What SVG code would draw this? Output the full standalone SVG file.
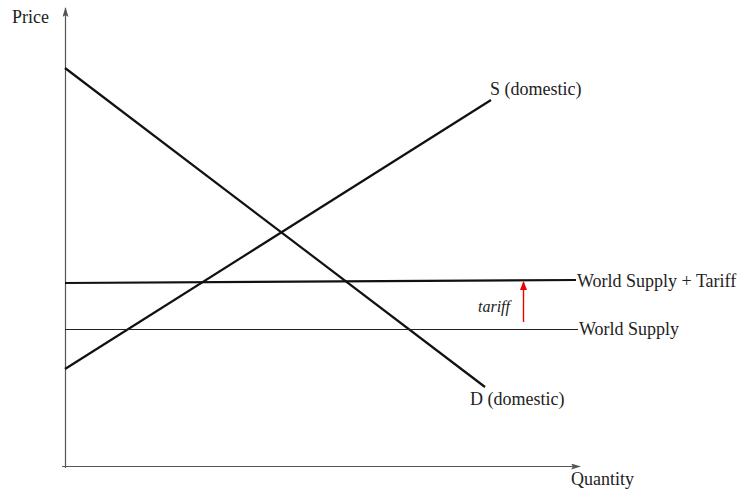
<svg xmlns="http://www.w3.org/2000/svg" width="742" height="492" viewBox="0 0 742 492">
<style>
text{font-family:"Liberation Serif","Times New Roman",serif;font-size:18px;fill:#222}
.axis{stroke:#555;stroke-width:1.2;fill:none}
.curve{stroke:#111;stroke-width:2.2;fill:none}
</style>
<defs>
<marker id="ah" markerWidth="10" markerHeight="6" refX="9" refY="3" orient="auto" markerUnits="userSpaceOnUse">
<path d="M0,0 L10,3 L0,6 L2,3 Z" fill="#555"/>
</marker>
<marker id="ahr" markerWidth="9" markerHeight="8" refX="8" refY="3.5" orient="auto" markerUnits="userSpaceOnUse">
<path d="M0,0 L9,3.5 L0,7 Z" fill="#e00"/>
</marker>
</defs>
<rect width="742" height="492" fill="#fff"/>
<g id="connectors">
<line class="axis" x1="65.5" y1="468" x2="65.5" y2="8" marker-end="url(#ah)"/>
<line class="axis" x1="62" y1="466.5" x2="580" y2="466.5" marker-end="url(#ah)"/>
<line class="curve" x1="65" y1="68" x2="485" y2="387"/>
<line class="curve" x1="65" y1="369" x2="491" y2="100"/>
<line class="curve" x1="65" y1="283" x2="576" y2="280"/>
<line stroke="#222" stroke-width="1.2" x1="65" y1="329.5" x2="578" y2="329.5"/>
<line stroke="#e00" stroke-width="1.4" x1="523.5" y1="322" x2="523.5" y2="282" marker-end="url(#ahr)"/>
</g>
<g id="price-label"><text x="12" y="23">Price</text></g>
<g id="quantity-label"><text x="571" y="485">Quantity</text></g>
<g id="s-label"><text x="490" y="95">S (domestic)</text></g>
<g id="d-label"><text x="470" y="405">D (domestic)</text></g>
<g id="wst-label"><text x="577" y="287">World Supply + Tariff</text></g>
<g id="ws-label"><text x="579" y="335">World Supply</text></g>
<g id="tariff-label"><text x="478" y="312" font-style="italic" style="font-size:16px">tariff</text></g>
</svg>
